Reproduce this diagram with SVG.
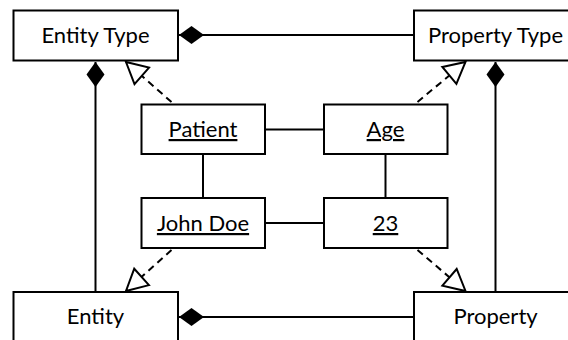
<svg xmlns="http://www.w3.org/2000/svg" width="568" height="340" viewBox="0 0 568 340">
<style>
.box{fill:#fff;stroke:#000;stroke-width:2}
.lbl{font-family:Lato,"Open Sans","Liberation Sans",sans-serif;font-size:22px;fill:#000;text-anchor:middle}
.inst{text-decoration:underline}
.ln{stroke:#000;stroke-width:2;fill:none}
.comp{marker-end:url(#dia)}
.real{stroke-dasharray:7 5;marker-end:url(#tri)}
</style>
<defs>
<marker id="dia" markerUnits="userSpaceOnUse" viewBox="0 0 25 18" refX="25" refY="9" markerWidth="25" markerHeight="18" orient="auto" overflow="visible">
<path d="M0,9 L12.5,0 L25,9 L12.5,18 Z" fill="#000"/>
</marker>
<marker id="tri" markerUnits="userSpaceOnUse" viewBox="0 0 21 22" refX="21" refY="11" markerWidth="21" markerHeight="22" orient="auto" overflow="visible">
<path d="M0,0 L21,11 L0,22 Z" fill="#fff" stroke="#000" stroke-width="2" stroke-linejoin="miter"/>
</marker>
</defs>
<g id="connectors">
<line class="ln comp" x1="414" y1="35" x2="179" y2="35"/>
<line class="ln comp" x1="414" y1="317" x2="179" y2="317"/>
<line class="ln comp" x1="95.5" y1="292" x2="95.5" y2="62"/>
<line class="ln comp" x1="495.5" y1="292" x2="495.5" y2="62"/>
<line class="ln" x1="265" y1="129.5" x2="324" y2="129.5"/>
<line class="ln" x1="265" y1="223" x2="324" y2="223"/>
<line class="ln" x1="203" y1="154" x2="203" y2="198"/>
<line class="ln" x1="385.5" y1="154" x2="385.5" y2="198"/>
<line class="ln real" x1="171.5" y1="102" x2="126" y2="62"/>
<line class="ln real" x1="417.5" y1="102" x2="465.5" y2="62"/>
<line class="ln real" x1="171.5" y1="250" x2="126" y2="291"/>
<line class="ln real" x1="417.5" y1="250" x2="465.5" y2="291"/>
</g>
<g id="entity-type"><rect class="box" x="13.5" y="10.5" width="164.5" height="50"/><text class="lbl" x="95.5" y="43">Entity Type</text></g>
<g id="property-type"><rect class="box" x="414" y="10.5" width="165" height="50"/><text class="lbl" x="495.5" y="43">Property Type</text></g>
<g id="entity"><rect class="box" x="13.5" y="292" width="164.5" height="50"/><text class="lbl" x="95.5" y="324">Entity</text></g>
<g id="property"><rect class="box" x="414" y="292" width="165" height="50"/><text class="lbl" x="495.5" y="324">Property</text></g>
<g id="patient"><rect class="box" x="141.5" y="104.5" width="123.5" height="49.5"/><text class="lbl inst" x="203" y="137">Patient</text></g>
<g id="age"><rect class="box" x="324" y="104.5" width="123.5" height="49.5"/><text class="lbl inst" x="385.5" y="137">Age</text></g>
<g id="john-doe"><rect class="box" x="141.5" y="198" width="123.5" height="50"/><text class="lbl inst" x="203" y="231">John Doe</text></g>
<g id="v23"><rect class="box" x="324" y="198" width="123.5" height="50"/><text class="lbl inst" x="385.5" y="231">23</text></g>
</svg>
